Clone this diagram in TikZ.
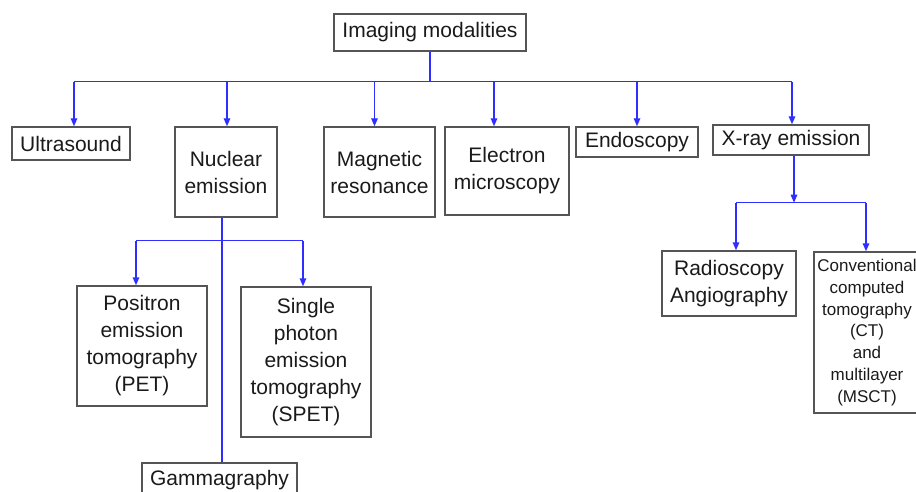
\documentclass[tikz,border=0pt]{standalone}
\usepackage{fontspec}
\setmainfont{Liberation Sans}
\usepackage{xcolor}
\usepackage{tikz}
\usetikzlibrary{arrows.meta}
\definecolor{linkBlue}{HTML}{2E2EFF}
\definecolor{boxGray}{HTML}{555555}
\definecolor{labelText}{HTML}{1A1A1A}

\begin{document}
\begin{tikzpicture}[x=1pt, y=-1pt,
        every node/.style={font=\fontsize{21}{27}\selectfont, text=labelText},
        box/.style={rectangle, draw=boxGray, line width=1.4pt, align=center, inner sep=2pt},
        small/.style={font=\fontsize{17}{21.7}\selectfont},
        link/.style={draw=linkBlue, line width=1.4pt},
        arr/.style={link, -{Triangle[length=8pt, width=6.5pt]}},
      ]
        \useasboundingbox (0,0) rectangle (916,492);
        \clip (0,0) rectangle (916,492);

        \node[box, minimum width=192pt, minimum height=37pt] (root) at (430,32.5) {Imaging modalities};

        \node[box, minimum width=118pt, minimum height=33pt] (us) at (71,143.5) {Ultrasound};
        \node[box, minimum width=102pt, minimum height=90pt] (nuc) at (226,172) {Nuclear\\emission};
        \node[box, minimum width=111pt, minimum height=90pt] (mr) at (379.5,172) {Magnetic\\resonance};
        \node[box, minimum width=124pt, minimum height=88pt] (em) at (507,171) {Electron\\microscopy};
        \node[box, minimum width=122pt, minimum height=30pt] (endo) at (637,142) {Endoscopy};
        \node[box, minimum width=156pt, minimum height=30pt] (xr) at (791,140) {X-ray emission};

        \node[box, minimum width=130pt, minimum height=120pt] (pet) at (142,346) {Positron\\emission\\tomography\\(PET)};
        \node[box, minimum width=130pt, minimum height=150pt] (spet) at (306,362) {Single\\photon\\emission\\tomography\\(SPET)};
        \node[box, minimum width=155pt, minimum height=34pt] (gam) at (219.5,480) {Gammagraphy};

        \node[box, minimum width=134pt, minimum height=65pt] (rad) at (729,283.5) {Radioscopy\\Angiography};
        \node[box, small, minimum width=106pt, minimum height=161pt] (ct) at (867,332.5)
              {Conventional\\computed\\tomography\\(CT)\\and\\multilayer\\(MSCT)};

        \draw[link] (root.south) -- ++(0,30) coordinate (bus);
        \draw[link] ([xshift=3pt]us.north |- bus) -- ([xshift=1pt]xr.north |- bus);
        \foreach \n/\s in {us/3, nuc/1, mr/-5, em/-13, endo/0, xr/1}
          \draw[arr] ([xshift=\s pt]\n.north |- bus) -- ([xshift=\s pt]\n.north);

        \draw[link] ([xshift=-4pt]nuc.south) -- ([xshift=-4pt]nuc.south |- gam.north);
        \coordinate (nbus) at ([xshift=-4pt, yshift=-23pt]nuc.south);
        \draw[link] ([xshift=-6pt]pet.north |- nbus) -- ([xshift=-3pt]spet.north |- nbus);
        \draw[arr] ([xshift=-6pt]pet.north |- nbus) -- ([xshift=-6pt]pet.north);
        \draw[arr] ([xshift=-3pt]spet.north |- nbus) -- ([xshift=-3pt]spet.north);

        \draw[arr] ([xshift=3pt]xr.south) -- ++(0,47) coordinate (xbus);
        \draw[link] ([xshift=7pt]rad.north |- xbus) -- ([xshift=-1pt]ct.north |- xbus);
        \draw[arr] ([xshift=7pt]rad.north |- xbus) -- ([xshift=7pt]rad.north);
        \draw[arr] ([xshift=-1pt]ct.north |- xbus) -- ([xshift=-1pt]ct.north);
      \end{tikzpicture}
\end{document}
